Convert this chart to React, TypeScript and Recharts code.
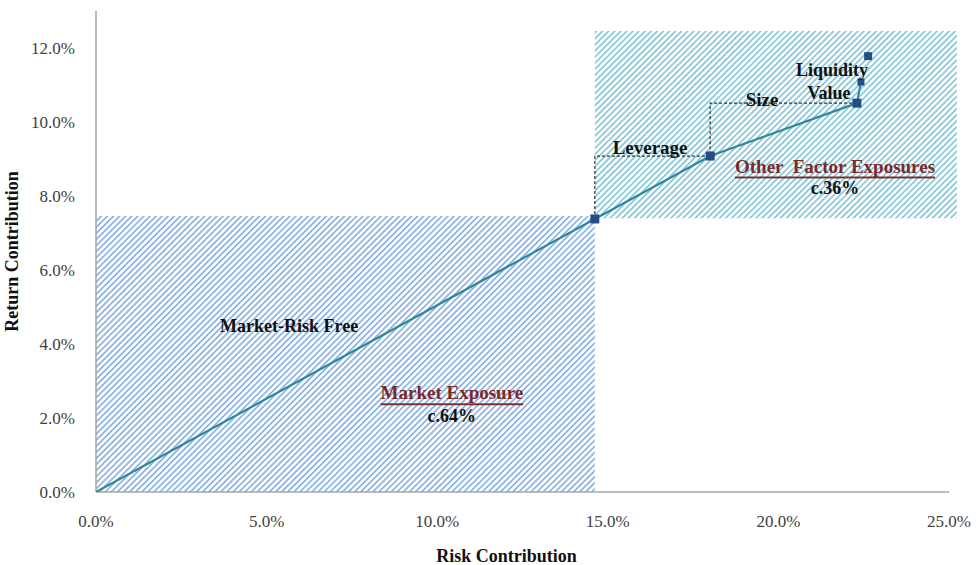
import React from 'react';
import { ComposedChart, XAxis, YAxis, Scatter, ReferenceArea, ReferenceDot, Label } from 'recharts';

// Frontier path (risk contribution vs return contribution)
const frontierX = [0, 0.1462, 0.18, 0.223, 0.2242];
const frontierY = [0, 0.0738, 0.0908, 0.1051, 0.1108];
// Dashed step path
const stepX = [0.1462, 0.1462, 0.18, 0.18, 0.223];
const stepY = [0.0738, 0.0908, 0.0908, 0.1051, 0.1051];
// Factor markers: Market, Leverage, Size, Value, Liquidity
const markerX = [0.1462, 0.18, 0.223, 0.2242, 0.2263];
const markerY = [0.0738, 0.0908, 0.1051, 0.1108, 0.1178];
const markerSize = [9, 9, 9, 7, 8];

const xTicks = [0, 0.05, 0.1, 0.15, 0.2, 0.25];
const yTicks = [0, 0.02, 0.04, 0.06, 0.08, 0.1, 0.12];

const marketArea = [0, 0.1462, 0, 0.0746];
const otherArea = [0.1462, 0.2523, 0.074, 0.1246];

const labelTexts = ['Market-Risk Free', 'Market Exposure', 'c.64%', 'Other  Factor Exposures', 'c.36%', 'Leverage', 'Size', 'Value', 'Liquidity'];
const labelX = [0.0566, 0.1043, 0.1043, 0.2166, 0.2166, 0.1624, 0.1952, 0.2148, 0.2157];
const labelY = [0.0449, 0.0268, 0.0205, 0.0881, 0.0822, 0.0932, 0.1062, 0.1078, 0.1141];
const labelColor = ['#111', '#7a2a2a', '#111', '#7a2a2a', '#111', '#111', '#111', '#111', '#111'];
const labelUnderline = [false, true, false, true, false, false, false, false, false];
const labelSize = [18, 19, 18, 19, 18, 19, 19, 18, 18];

const zip = (xs: number[], ys: number[]) => xs.map((x, i) => ({ x, y: ys[i] }));
const frontierData = zip(frontierX, frontierY);
const stepData = zip(stepX, stepY);
const markerData = markerX.map((x, i) => ({ x, y: markerY[i], s: markerSize[i] }));

const FONT = '"Liberation Serif", "DejaVu Serif", serif';
const pct = (v: number) => (v * 100).toFixed(1) + '%';

const Square = (props: any) => {
  const { cx, cy, payload } = props;
  const s = payload?.s ?? 8;
  return <rect x={cx - s / 2} y={cy - s / 2} width={s} height={s} fill="#234d86" />;
};
const Nothing = () => <g />;

export default function App() {
  return (
    <div style={{ position: 'absolute', left: 0, top: 0, width: 976, height: 565, background: '#fff' }}>
      <ComposedChart width={976} height={565} margin={{ top: 11, right: 27, left: 0, bottom: 0 }}>
        <defs>
          <pattern id="hatchBlue" patternUnits="userSpaceOnUse" width="4.3" height="4.3" patternTransform="rotate(45)">
            <rect x="0" y="0" width="1.7" height="4.3" fill="#8ab3e4" />
          </pattern>
          <pattern id="hatchTeal" patternUnits="userSpaceOnUse" width="4.3" height="4.3" patternTransform="rotate(45)">
            <rect x="0" y="0" width="1.7" height="4.3" fill="#86c8da" />
          </pattern>
        </defs>
        <XAxis
          type="number"
          dataKey="x"
          domain={[0, 0.25]}
          ticks={xTicks}
          tickFormatter={pct}
          allowDataOverflow
          height={73}
          tickLine={false}
          tickMargin={17}
          axisLine={{ stroke: '#a6a6a6', strokeWidth: 1.5 }}
          tick={{ fill: '#404040', fontSize: 17, fontFamily: FONT }}
        >
          <Label value="Risk Contribution" position="insideBottom" offset={3} dx={-16}
            style={{ fontFamily: FONT, fontWeight: 'bold', fontSize: 18, fill: '#111' }} />
        </XAxis>
        <YAxis
          type="number"
          dataKey="y"
          domain={[0, 0.13]}
          ticks={yTicks}
          tickFormatter={pct}
          allowDataOverflow
          width={96}
          tickLine={false}
          tickMargin={15}
          axisLine={{ stroke: '#a6a6a6', strokeWidth: 1.5 }}
          tick={{ fill: '#404040', fontSize: 17, fontFamily: FONT }}
        >
          <Label value="Return Contribution" angle={-90} position="insideLeft" offset={12}
            style={{ fontFamily: FONT, fontWeight: 'bold', fontSize: 18, fill: '#111', textAnchor: 'middle' }} />
        </YAxis>
        <ReferenceArea x1={marketArea[0]} x2={marketArea[1]} y1={marketArea[2]} y2={marketArea[3]}
          fill="url(#hatchBlue)" fillOpacity={1} stroke="none" ifOverflow="visible" />
        <ReferenceArea x1={otherArea[0]} x2={otherArea[1]} y1={otherArea[2]} y2={otherArea[3]}
          fill="url(#hatchTeal)" fillOpacity={1} stroke="none" ifOverflow="visible" />
        <Scatter data={stepData} shape={Nothing} isAnimationActive={false}
          line={{ stroke: '#333', strokeWidth: 1.2, strokeDasharray: '3 2' }} />
        <Scatter data={frontierData} shape={Nothing} isAnimationActive={false}
          line={{ stroke: '#31869b', strokeWidth: 2.2 }} />
        <Scatter data={markerData} shape={Square} isAnimationActive={false} />
        {labelTexts.map((t, i) => (
          <ReferenceDot key={t} x={labelX[i]} y={labelY[i]} r={0} fill="none" stroke="none" ifOverflow="visible"
            label={{
              content: (p: any) => {
                const vb = p.viewBox || {};
                const cx = (vb.x ?? 0) + (vb.width ?? 0) / 2;
                const cy = (vb.y ?? 0) + (vb.height ?? 0) / 2;
                return (
                  <text x={cx} y={cy} textAnchor="middle" dominantBaseline="central"
                    style={{
                      fontFamily: FONT, fontSize: labelSize[i], fontWeight: 'bold',
                      fill: labelColor[i], textDecoration: labelUnderline[i] ? 'underline' : 'none',
                      whiteSpace: 'pre',
                    }}>
                    {t}
                  </text>
                );
              },
            }} />
        ))}
      </ComposedChart>
    </div>
  );
}
